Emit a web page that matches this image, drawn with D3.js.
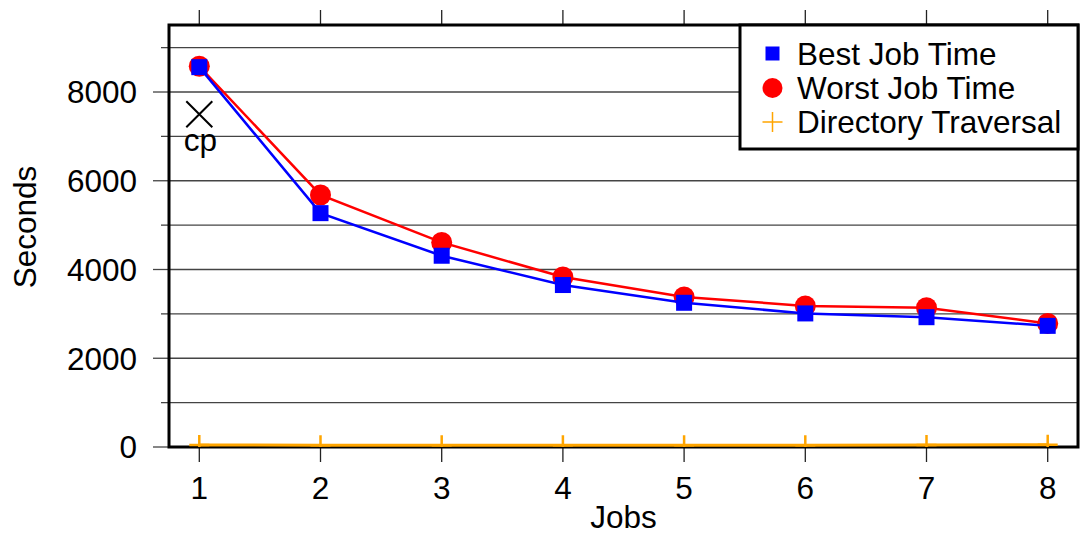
<!DOCTYPE html>
<html>
<head>
<meta charset="utf-8">
<script src="https://cdnjs.cloudflare.com/ajax/libs/d3/7.8.5/d3.min.js"></script>
<style>
    body { margin: 0; background: #fff; }
    svg { display: block; font-family: "Liberation Sans", Arial, sans-serif; }
</style>
</head>
<body>
<div id="chart"></div>
<script>
// data
const jobs = [1, 2, 3, 4, 5, 6, 7, 8];
const bestJobTime = [8560, 5270, 4310, 3650, 3250, 3010, 2925, 2730];
const worstJobTime = [8580, 5680, 4610, 3830, 3380, 3180, 3140, 2785];
const dirTraversal = [45, 40, 40, 40, 40, 40, 45, 50];
const cpPoint = [{ job: 1, value: 7500, label: "cp" }];
const yMajorTicks = [0, 2000, 4000, 6000, 8000];
const yGridTicks = [1000, 2000, 3000, 4000, 5000, 6000, 7000, 8000, 9000];
const legendItems = ["Best Job Time", "Worst Job Time", "Directory Traversal"];

const W = 1080, H = 536;
const margin = { top: 25, right: 2, bottom: 89, left: 169 };
const width = W - margin.left - margin.right;
const height = H - margin.top - margin.bottom;
const fontSize = 31.5;

const svg = d3.select("#chart").append("svg")
    .attr("width", W)
    .attr("height", H);

const g = svg.append("g")
    .attr("transform", `translate(${margin.left},${margin.top})`);

const x = d3.scaleLinear().domain([0.75, 8.25]).range([0, width]);
const y = d3.scaleLinear().domain([0, 9510]).range([height, 0]);

const gridColor = "#444";

// grid lines
g.selectAll(".grid")
    .data(yGridTicks)
    .enter().append("line")
    .attr("x1", 0).attr("x2", width)
    .attr("y1", d => y(d)).attr("y2", d => y(d))
    .attr("stroke", gridColor)
    .attr("stroke-width", 1.3);

// y ticks, long at 2000 steps, short in between
g.selectAll(".ytick")
    .data([0].concat(yGridTicks))
    .enter().append("line")
    .attr("x1", d => d % 2000 === 0 ? -16 : -8).attr("x2", 0)
    .attr("y1", d => y(d)).attr("y2", d => y(d))
    .attr("stroke", gridColor)
    .attr("stroke-width", 1.3);

g.selectAll(".ylabel")
    .data(yMajorTicks)
    .enter().append("text")
    .attr("x", -32)
    .attr("y", d => y(d))
    .attr("dy", "0.36em")
    .attr("text-anchor", "end")
    .attr("font-size", fontSize)
    .text(d => d);

// x ticks top and bottom
g.selectAll(".xtickb")
    .data(jobs)
    .enter().append("line")
    .attr("x1", d => x(d)).attr("x2", d => x(d))
    .attr("y1", height).attr("y2", height + 15)
    .attr("stroke", "#222").attr("stroke-width", 1.3);
g.selectAll(".xtickt")
    .data(jobs)
    .enter().append("line")
    .attr("x1", d => x(d)).attr("x2", d => x(d))
    .attr("y1", 0).attr("y2", -15)
    .attr("stroke", "#222").attr("stroke-width", 1.3);

g.selectAll(".xlabel")
    .data(jobs)
    .enter().append("text")
    .attr("x", d => x(d))
    .attr("y", height + 52)
    .attr("text-anchor", "middle")
    .attr("font-size", fontSize)
    .text(d => d);

// axis titles
svg.append("text")
    .attr("x", margin.left + width / 2)
    .attr("y", 528)
    .attr("text-anchor", "middle")
    .attr("font-size", fontSize)
    .text("Jobs");

svg.append("text")
    .attr("transform", "translate(36,227) rotate(-90)")
    .attr("text-anchor", "middle")
    .attr("font-size", fontSize)
    .text("Seconds");

// frame
g.append("rect")
    .attr("x", 0).attr("y", 0)
    .attr("width", width).attr("height", height)
    .attr("fill", "none")
    .attr("stroke", "#000")
    .attr("stroke-width", 3);

// clip for data
g.append("clipPath").attr("id", "plot-clip")
    .append("rect")
    .attr("x", 0).attr("y", 0)
    .attr("width", width).attr("height", height);

const plot = g.append("g").attr("clip-path", "url(#plot-clip)");

const line = d3.line()
    .x((d, i) => x(jobs[i]))
    .y(d => y(d));

// worst job time (red)
plot.append("path")
    .datum(worstJobTime)
    .attr("d", line)
    .attr("fill", "none")
    .attr("stroke", "#ff0000")
    .attr("stroke-width", 2.5);
plot.selectAll(".worst")
    .data(worstJobTime)
    .enter().append("circle")
    .attr("cx", (d, i) => x(jobs[i]))
    .attr("cy", d => y(d))
    .attr("r", 10.5)
    .attr("fill", "#ff0000");

// best job time (blue)
plot.append("path")
    .datum(bestJobTime)
    .attr("d", line)
    .attr("fill", "none")
    .attr("stroke", "#0000ff")
    .attr("stroke-width", 2.5);
plot.selectAll(".best")
    .data(bestJobTime)
    .enter().append("rect")
    .attr("x", (d, i) => x(jobs[i]) - 8)
    .attr("y", d => y(d) - 8)
    .attr("width", 16).attr("height", 16)
    .attr("fill", "#0000ff");

// directory traversal (orange)
plot.append("path")
    .datum(dirTraversal)
    .attr("d", line)
    .attr("fill", "none")
    .attr("stroke", "#ffa500")
    .attr("stroke-width", 3);
plot.selectAll(".dir")
    .data(dirTraversal)
    .enter().append("path")
    .attr("d", (d, i) => {
        const cx = x(jobs[i]), cy = y(d);
        return `M${cx - 10},${cy}H${cx + 10}M${cx},${cy - 10}V${cy + 10}`;
    })
    .attr("stroke", "#ffa500")
    .attr("stroke-width", 2.5);

// cp marker
cpPoint.forEach(p => {
    const cx = x(p.job), cy = y(p.value);
    g.append("path")
        .attr("d", `M${cx - 13},${cy - 13}L${cx + 13},${cy + 13}M${cx - 13},${cy + 13}L${cx + 13},${cy - 13}`)
        .attr("stroke", "#000")
        .attr("stroke-width", 2);
    g.append("text")
        .attr("x", cx + 1)
        .attr("y", cy + 37)
        .attr("text-anchor", "middle")
        .attr("font-size", fontSize)
        .text(p.label);
});

// legend
const legend = svg.append("g");
legend.append("rect")
    .attr("x", 740).attr("y", 25)
    .attr("width", 338).attr("height", 124)
    .attr("fill", "#fff")
    .attr("stroke", "#000")
    .attr("stroke-width", 3);

const rowY = [53.5, 88, 122];
legend.append("rect")
    .attr("x", 765.5).attr("y", rowY[0] - 7)
    .attr("width", 14).attr("height", 14)
    .attr("fill", "#0000ff");
legend.append("circle")
    .attr("cx", 772.5).attr("cy", rowY[1])
    .attr("r", 10)
    .attr("fill", "#ff0000");
legend.append("path")
    .attr("d", `M762.5,${rowY[2]}H782.5M772.5,${rowY[2] - 10}V${rowY[2] + 10}`)
    .attr("stroke", "#ffa500")
    .attr("stroke-width", 1.5);

legend.selectAll(".legtext")
    .data(legendItems)
    .enter().append("text")
    .attr("x", 797)
    .attr("y", (d, i) => rowY[i])
    .attr("dy", "0.36em")
    .attr("font-size", fontSize)
    .text(d => d);
</script>
</body>
</html>
